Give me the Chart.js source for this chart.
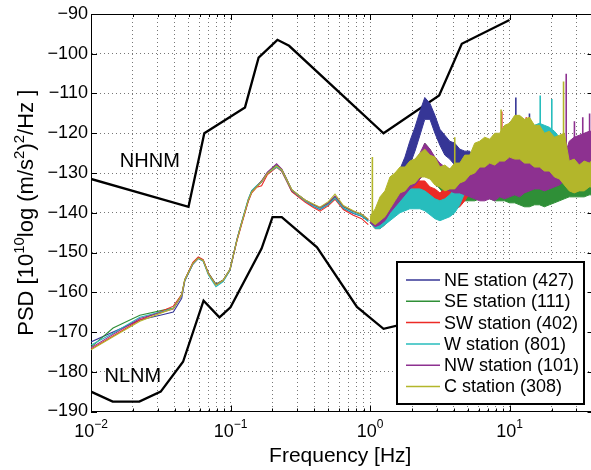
<!DOCTYPE html>
<html>
<head>
<meta charset="utf-8">
<script src="https://cdn.jsdelivr.net/npm/chart.js@4.4.1/dist/chart.umd.min.js"></script>
<style>
html,body{margin:0;padding:0;background:#fff;overflow:hidden;}
canvas{display:block;}
</style>
</head>
<body>
<canvas id="psd" width="596" height="470"></canvas>
<script>
// y axis ticks and x axis decades (labels are 10^e)
const yTicks = [-190, -180, -170, -160, -150, -140, -130, -120, -110, -100, -90];
const xTickExps = [-2, -1, 0, 1];

// Peterson noise models
const nhnmFreq = [0.01, 0.05, 0.0649, 0.127, 0.159, 0.217, 0.263, 1.25, 3.13, 4.55, 10];
const nhnmDb = [-131.5, -138.5, -120, -113.5, -101, -96.5, -98, -120, -110.5, -97.5, -91.5];
const nlnmFreq = [0.01, 0.0143, 0.0222, 0.0316, 0.0457, 0.0641, 0.0833, 0.1, 0.167, 0.2, 0.233, 0.417, 0.806, 1.25, 2.5, 5.88, 10];
const nlnmDb = [-185, -187.5, -187.5, -185, -177.5, -162.1, -166.3, -163.8, -149, -141.1, -141.1, -148.7, -163.7, -169.2, -166.7, -166.7, -168];
const modelLabels = [['NHNM', 0.0161, -128.5], ['NLNM', 0.0125, -182.6]];

// station PSD, smooth part below 1 Hz
const lowFreq = [0.01, 0.0144, 0.0224, 0.033, 0.0389, 0.0447, 0.047, 0.0538, 0.0588, 0.0637, 0.0693, 0.0786, 0.0886, 0.0991, 0.111, 0.12, 0.134, 0.142, 0.154, 0.167, 0.184, 0.214, 0.233, 0.253, 0.275, 0.306, 0.342, 0.393, 0.438, 0.503, 0.561, 0.644, 0.759, 0.871, 0.972];
const neLow = [-172.5, -170.0, -167.0, -165.6, -165.0, -161.5, -157.2, -152.9, -151.5, -152.1, -155.2, -158.0, -157.1, -154.5, -147.0, -142.8, -137.0, -134.6, -133.4, -132.3, -130.2, -128.4, -129.5, -132.0, -134.6, -135.8, -137.0, -138.4, -139.2, -137.9, -136.4, -138.9, -140.2, -140.9, -142.0];
const seLow = [-173.8, -169.0, -165.8, -164.5, -164.0, -160.5, -156.8, -152.6, -151.3, -151.9, -155.1, -158.0, -156.9, -154.2, -146.8, -142.5, -136.7, -134.5, -133.3, -132.0, -129.9, -128.0, -129.1, -131.6, -134.2, -135.5, -136.8, -138.0, -138.8, -137.6, -136.0, -138.5, -139.7, -140.5, -141.8];
const swLow = [-174.3, -171.0, -167.0, -164.6, -163.5, -160.6, -156.9, -152.5, -151.1, -151.8, -155.2, -158.2, -157.0, -154.4, -147.2, -143.0, -137.2, -135.0, -133.6, -133.2, -130.4, -128.6, -129.6, -132.1, -134.7, -136.0, -137.3, -138.7, -139.6, -138.2, -136.6, -139.2, -140.6, -141.5, -143.0];
const wLow = [-173.3, -170.3, -166.3, -164.8, -164.0, -160.9, -157.1, -152.9, -151.5, -152.2, -155.6, -158.6, -157.3, -154.5, -146.8, -142.4, -136.6, -134.4, -133.2, -132.1, -130.0, -128.5, -129.4, -131.9, -134.4, -135.7, -137.0, -138.3, -139.1, -137.9, -136.3, -138.8, -140.0, -140.8, -142.2];
const nwLow = [-174.0, -170.6, -166.6, -164.9, -164.2, -160.8, -157.0, -152.8, -151.4, -152.0, -155.3, -158.1, -157.0, -154.3, -146.9, -142.6, -136.9, -134.7, -133.4, -132.0, -129.8, -127.7, -129.0, -131.6, -134.3, -135.5, -136.8, -138.0, -138.7, -137.5, -135.8, -138.4, -139.6, -140.4, -141.7];
const cLow = [-174.5, -171.2, -167.3, -165.0, -164.1, -160.7, -156.9, -152.7, -151.4, -152.0, -155.3, -158.2, -157.0, -154.3, -147.0, -142.7, -136.9, -134.8, -133.5, -132.2, -130.1, -128.2, -129.2, -131.7, -134.2, -135.5, -136.8, -137.8, -138.6, -137.2, -135.3, -138.2, -139.5, -140.4, -141.6];

// noisy part above 1 Hz: upper and lower edge of each station's band
const bandFreq = [1.0, 1.09, 1.18, 1.28, 1.39, 1.51, 1.64, 1.78, 1.93, 2.1, 2.28, 2.47, 2.69, 2.92, 3.17, 3.44, 3.73, 4.05, 4.4, 4.78, 5.19, 5.63, 6.12, 6.64, 7.21, 7.83, 8.5, 9.23, 10, 10.9, 11.8, 12.8, 13.9, 15.1, 16.4, 17.8, 19.3, 21, 22.8, 24.7, 26.8, 29.1, 31.6, 34.3, 37.3, 40];
const neHi = [-142, -140.5, -139, -137, -134.5, -132, -129, -126, -122, -118.5, -114.5, -111, -112.5, -115.5, -119, -120.5, -122, -122.5, -124, -124.5, -124.5, -127, -127, -128, -127, -127, -126, -126, -125, -124, -124, -122, -121, -123, -123, -124, -124, -125, -125, -125, -125, -125, -125, -125, -125, -125];
const neLo = [-142, -143, -142.5, -141, -139, -137, -134, -131.5, -128, -124.5, -120.5, -116.5, -116.5, -120, -123, -125.5, -126.5, -128, -128.5, -130, -131, -133, -133, -134, -133, -132, -132, -131, -131, -130, -130, -129, -128, -130, -130, -131, -131, -132, -132, -132, -132, -132, -132, -132, -132, -132];
const seHi = [-142, -140, -138, -136, -134, -132.5, -131, -129.5, -128.5, -127, -126, -122.5, -124, -126.5, -128, -129.5, -130, -130, -130, -130.5, -130.5, -130, -130, -129.5, -129.5, -129, -129, -128.5, -128.5, -128.5, -129, -129, -129.5, -130, -130.5, -130.5, -131, -130.5, -130.5, -130.5, -131, -131, -131, -131, -131, -131];
const seLo = [-142, -143, -142, -141, -139.5, -138, -137, -135.5, -134, -133, -131.5, -130, -131, -132.5, -134, -135.5, -136, -136.5, -137, -137, -137, -137, -136.5, -136.5, -136.5, -137, -137, -137, -137.5, -137.5, -138, -138.5, -138.5, -138, -138, -138.5, -138, -137.5, -137, -136.5, -136, -136, -136, -136, -135.5, -135.5];
const swHi = [-142, -141, -139, -137, -135.5, -134, -133, -132, -132.5, -131.5, -132, -132, -133.5, -134, -135, -134, -134, -133, -132, -131, -129, -127, -126, -125, -124, -123.5, -123, -123, -123, -123, -123.5, -123.5, -124, -124, -124.5, -124.5, -125, -125, -125, -125, -125.5, -125.5, -125.5, -125.5, -125.5, -125.5];
const swLo = [-142.5, -144, -144, -143, -141, -140, -139, -138.5, -138, -138, -138, -138, -139, -140.5, -141, -140.5, -140, -139, -138.5, -137, -135, -133, -132, -131, -130, -129.5, -129, -129, -129, -129, -129.5, -130, -130, -130.5, -130.5, -131, -131, -131, -131, -131.5, -131.5, -131.5, -131.5, -131.5, -131.5, -131.5];
const wHi = [-142, -141, -139.5, -138, -137, -136, -135, -134.5, -134, -134, -134, -134.5, -135.5, -136.5, -137, -136.5, -135.5, -134, -132, -129.5, -127.5, -126.5, -126, -125.5, -125, -124.5, -124, -123, -122.5, -121.5, -120.5, -119.5, -119, -118, -117.5, -118, -118.5, -119.5, -121, -123, -126, -127, -127, -127, -127, -127];
const wLo = [-142.5, -144, -144, -143, -142, -141, -140, -139.5, -139, -139, -139, -139.5, -140.5, -141.5, -142, -141.5, -141, -140, -138, -135, -133, -132, -131.5, -131, -131, -130.5, -130, -129.5, -129, -128, -127, -126.5, -126, -125.5, -125, -125.5, -126, -127, -128, -130, -132, -133, -133, -133, -133, -133];
const nwHi = [-142, -141, -139, -137, -135, -133, -131, -130, -128.5, -127, -125, -122.5, -124, -126, -127.5, -128.5, -129, -129, -129, -129, -129.5, -128.5, -128, -127.5, -127, -127, -126.5, -126, -126, -126, -126.5, -127, -127, -127.5, -128, -128, -128, -127.5, -127, -126, -122, -121, -120.5, -120, -119.5, -119.5];
const nwLo = [-142.5, -143.5, -143, -142, -140, -138.5, -137, -135.5, -134, -133, -131.5, -130, -130.5, -132, -133.5, -134, -134.5, -135, -135, -135.5, -136, -136.5, -137, -137, -136.5, -137, -136, -136.5, -136, -135.5, -136, -135, -134.5, -134, -134, -134.5, -134, -133.5, -133, -132, -131, -130.5, -130, -130, -129.5, -129];
const cHi = [-141, -139, -136, -134.5, -131, -130, -128.5, -128.5, -127, -126.5, -125, -124, -125.5, -126, -128.5, -128, -129, -127.5, -127.5, -125.5, -125.5, -122.5, -122, -121, -121.5, -120, -120, -118, -117.5, -115.5, -115.5, -116.5, -116, -118, -118, -120, -119.5, -121, -120.5, -120, -127, -126.5, -128, -127, -127.5, -126.5];
const cLo = [-142, -143, -142, -141, -139, -137, -135, -134.5, -133, -132.5, -131, -131, -131.5, -133, -133.5, -134.5, -134, -134, -132.5, -132, -130.5, -130, -128.5, -128.5, -127.5, -128, -127, -127, -126, -126.5, -126.5, -127.5, -127.5, -128.5, -128.5, -129.5, -129.5, -131, -131.5, -133, -134.5, -135, -134.5, -134.5, -133.5, -133.5];

// single spikes: [freq, top, foot]
const neSpikes = [[11.1, -111, -124], [13.9, -115, -122]];
const seSpikes = [];
const swSpikes = [[8.8, -114.5, -123], [10.3, -117, -123], [13.2, -116, -124]];
const wSpikes = [[16.6, -110.5, -118], [20.1, -111.4, -119]];
const nwSpikes = [[15.5, -119, -127], [25.5, -105, -126], [29.2, -117, -122], [33.5, -116, -121], [37.5, -115, -120]];
const cSpikes = [[1.04, -126, -141.5], [4.05, -121, -128.5], [8.7, -114, -120.5], [24.4, -107, -121]];

const FONT = '"Liberation Sans", Arial, Helvetica, sans-serif';

const stations = [
  {label: 'NE station (427)', color: '#363696', low: neLow, hi: neHi, lo: neLo, spikes: neSpikes, order: 6},
  {label: 'SE station (111)', color: '#2f8f37', low: seLow, hi: seHi, lo: seLo, spikes: seSpikes, order: 5},
  {label: 'SW station (402)', color: '#ec2b26', low: swLow, hi: swHi, lo: swLo, spikes: swSpikes, order: 4},
  {label: 'W station (801)', color: '#27bdbd', low: wLow, hi: wHi, lo: wLo, spikes: wSpikes, order: 3},
  {label: 'NW station (101)', color: '#8d3190', low: nwLow, hi: nwHi, lo: nwLo, spikes: nwSpikes, order: 2},
  {label: 'C station (308)', color: '#b3b62b', low: cLow, hi: cHi, lo: cLo, spikes: cSpikes, order: 1}
];

const pts = (fs, vs) => fs.map((f, i) => ({x: f, y: vs[i]}));

const datasets = [
  {data: pts(nhnmFreq, nhnmDb), borderColor: '#000', borderWidth: 2.3, order: 7},
  {data: pts(nlnmFreq, nlnmDb), borderColor: '#000', borderWidth: 2.3, order: 7}
];
stations.forEach(st => {
  datasets.push({label: st.label, data: pts(lowFreq, st.low), borderColor: st.color, borderWidth: 1.1, order: st.order});
  datasets.push({data: pts(bandFreq, st.hi), borderColor: st.color, backgroundColor: st.color, borderWidth: 1, fill: '+1', order: st.order});
  datasets.push({data: pts(bandFreq, st.lo), borderColor: st.color, borderWidth: 1, order: st.order});
  const sp = [];
  st.spikes.forEach(s => { sp.push({x: s[0], y: s[2]}, {x: s[0], y: s[1]}, {x: s[0], y: null}); });
  datasets.push({data: sp, borderColor: st.color, borderWidth: 1.6, order: st.order, spanGaps: false});
});

function isDecade(v){
  const l = Math.log10(v);
  return Math.abs(l - Math.round(l)) < 1e-6;
}

const decor = {
  id: 'decor',
  beforeDatasetsDraw(chart){
    const {ctx, chartArea: a, scales: {x, y}} = chart;
    ctx.save();
    ctx.strokeStyle = '#000';
    ctx.lineWidth = 1;
    ctx.beginPath();
    ctx.moveTo(a.left, a.top + 0.5); ctx.lineTo(a.right, a.top + 0.5);
    ctx.moveTo(a.right - 0.5, a.top); ctx.lineTo(a.right - 0.5, a.bottom);
    x.ticks.forEach(t => {
      const px = Math.round(x.getPixelForValue(t.value)) + 0.5;
      const len = isDecade(t.value) ? 6 : 3;
      ctx.moveTo(px, a.bottom); ctx.lineTo(px, a.bottom - len);
      ctx.moveTo(px, a.top); ctx.lineTo(px, a.top + len);
    });
    y.ticks.forEach(t => {
      const py = Math.round(y.getPixelForValue(t.value)) + 0.5;
      ctx.moveTo(a.left, py); ctx.lineTo(a.left + 6, py);
      ctx.moveTo(a.right, py); ctx.lineTo(a.right - 6, py);
    });
    ctx.stroke();
    ctx.restore();
  },
  afterDraw(chart){
    const {ctx, chartArea: a, scales: {x, y}} = chart;
    ctx.save();
    ctx.fillStyle = '#000';
    ctx.textBaseline = 'alphabetic';
    ctx.textAlign = 'left';

    // model names
    ctx.font = '20px ' + FONT;
    modelLabels.forEach(m => ctx.fillText(m[0], x.getPixelForValue(m[1]), y.getPixelForValue(m[2])));

    // x tick labels 10^e
    xTickExps.forEach(e => {
      const px = x.getPixelForValue(Math.pow(10, e));
      const es = (e < 0 ? '\u2212' : '') + Math.abs(e);
      ctx.font = '18px ' + FONT;
      const bw = ctx.measureText('10').width;
      ctx.font = '12px ' + FONT;
      const ew = ctx.measureText(es).width;
      const x0 = px - (bw + ew) / 2;
      ctx.font = '18px ' + FONT;
      ctx.fillText('10', x0, a.bottom + 25.5);
      ctx.font = '12px ' + FONT;
      ctx.fillText(es, x0 + bw, a.bottom + 16.5);
    });

    // x title
    ctx.font = '21px ' + FONT;
    ctx.textAlign = 'center';
    ctx.fillText('Frequency [Hz]', (a.left + a.right) / 2 - 2, a.bottom + 50);

    // y title with superscripts
    const parts = [['PSD [10', 0], ['10', 1], ['log (m/s', 0], ['2', 1], [')', 0], ['2', 1], ['/Hz ]', 0]];
    const fnt = p => (p[1] ? '15px ' : '22px ') + FONT;
    let total = 0;
    parts.forEach(p => { ctx.font = fnt(p); total += ctx.measureText(p[0]).width; });
    ctx.translate(33, (a.top + a.bottom) / 2);
    ctx.rotate(-Math.PI / 2);
    ctx.textAlign = 'left';
    let cx = -total / 2;
    parts.forEach(p => {
      ctx.font = fnt(p);
      ctx.fillText(p[0], cx, p[1] ? -9 : 0);
      cx += ctx.measureText(p[0]).width;
    });
    ctx.restore();

    // legend box inside the axes
    ctx.save();
    const L = {x: 397, y: 262, w: 187, h: 142, row: 21.3};
    ctx.fillStyle = '#fff';
    ctx.fillRect(L.x, L.y, L.w, L.h);
    ctx.strokeStyle = '#000';
    ctx.lineWidth = 2;
    ctx.strokeRect(L.x, L.y, L.w, L.h);
    ctx.font = '18px ' + FONT;
    ctx.textBaseline = 'middle';
    ctx.textAlign = 'left';
    stations.forEach((st, i) => {
      const ry = L.y + 18 + i * L.row;
      ctx.strokeStyle = st.color;
      ctx.lineWidth = 1.5;
      ctx.beginPath();
      ctx.moveTo(L.x + 9, ry); ctx.lineTo(L.x + 43, ry);
      ctx.stroke();
      ctx.fillStyle = '#000';
      ctx.fillText(st.label, L.x + 47, ry + 1);
    });
    ctx.restore();
  }
};

Chart.defaults.font.family = FONT;

new Chart(document.getElementById('psd'), {
  type: 'line',
  data: {datasets},
  options: {
    responsive: false,
    animation: false,
    events: [],
    devicePixelRatio: 1,
    layout: {padding: {left: 0, right: 2.5, top: 14, bottom: 0}},
    elements: {point: {radius: 0}, line: {tension: 0}},
    plugins: {legend: {display: false}, tooltip: {enabled: false}, filler: {propagate: false}},
    scales: {
      x: {
        type: 'logarithmic', min: 0.01, max: 40,
        grid: {color: '#777', lineWidth: 1, drawTicks: false},
        border: {display: true, color: '#000', width: 1, dash: [1, 3]},
        ticks: {display: false, autoSkip: false},
        afterBuildTicks: s => {
          s.ticks = s.ticks.filter(t => {
            const m = t.value / Math.pow(10, Math.floor(Math.log10(t.value) + 1e-9));
            return Math.abs(m - Math.round(m)) < 1e-6;
          });
        },
        afterFit: s => { s.height = 58.5; }
      },
      y: {
        min: -190, max: -90,
        afterBuildTicks: s => { s.ticks = yTicks.map(v => ({value: v})); },
        grid: {color: '#777', lineWidth: 1, drawTicks: false},
        border: {display: true, color: '#000', width: 1, dash: [1, 3]},
        ticks: {padding: 3, color: '#000', font: {size: 18}, callback: v => '\u2212' + Math.abs(v)},
        afterFit: s => { s.width = 91; }
      }
    }
  },
  plugins: [decor]
});
</script>
</body>
</html>
